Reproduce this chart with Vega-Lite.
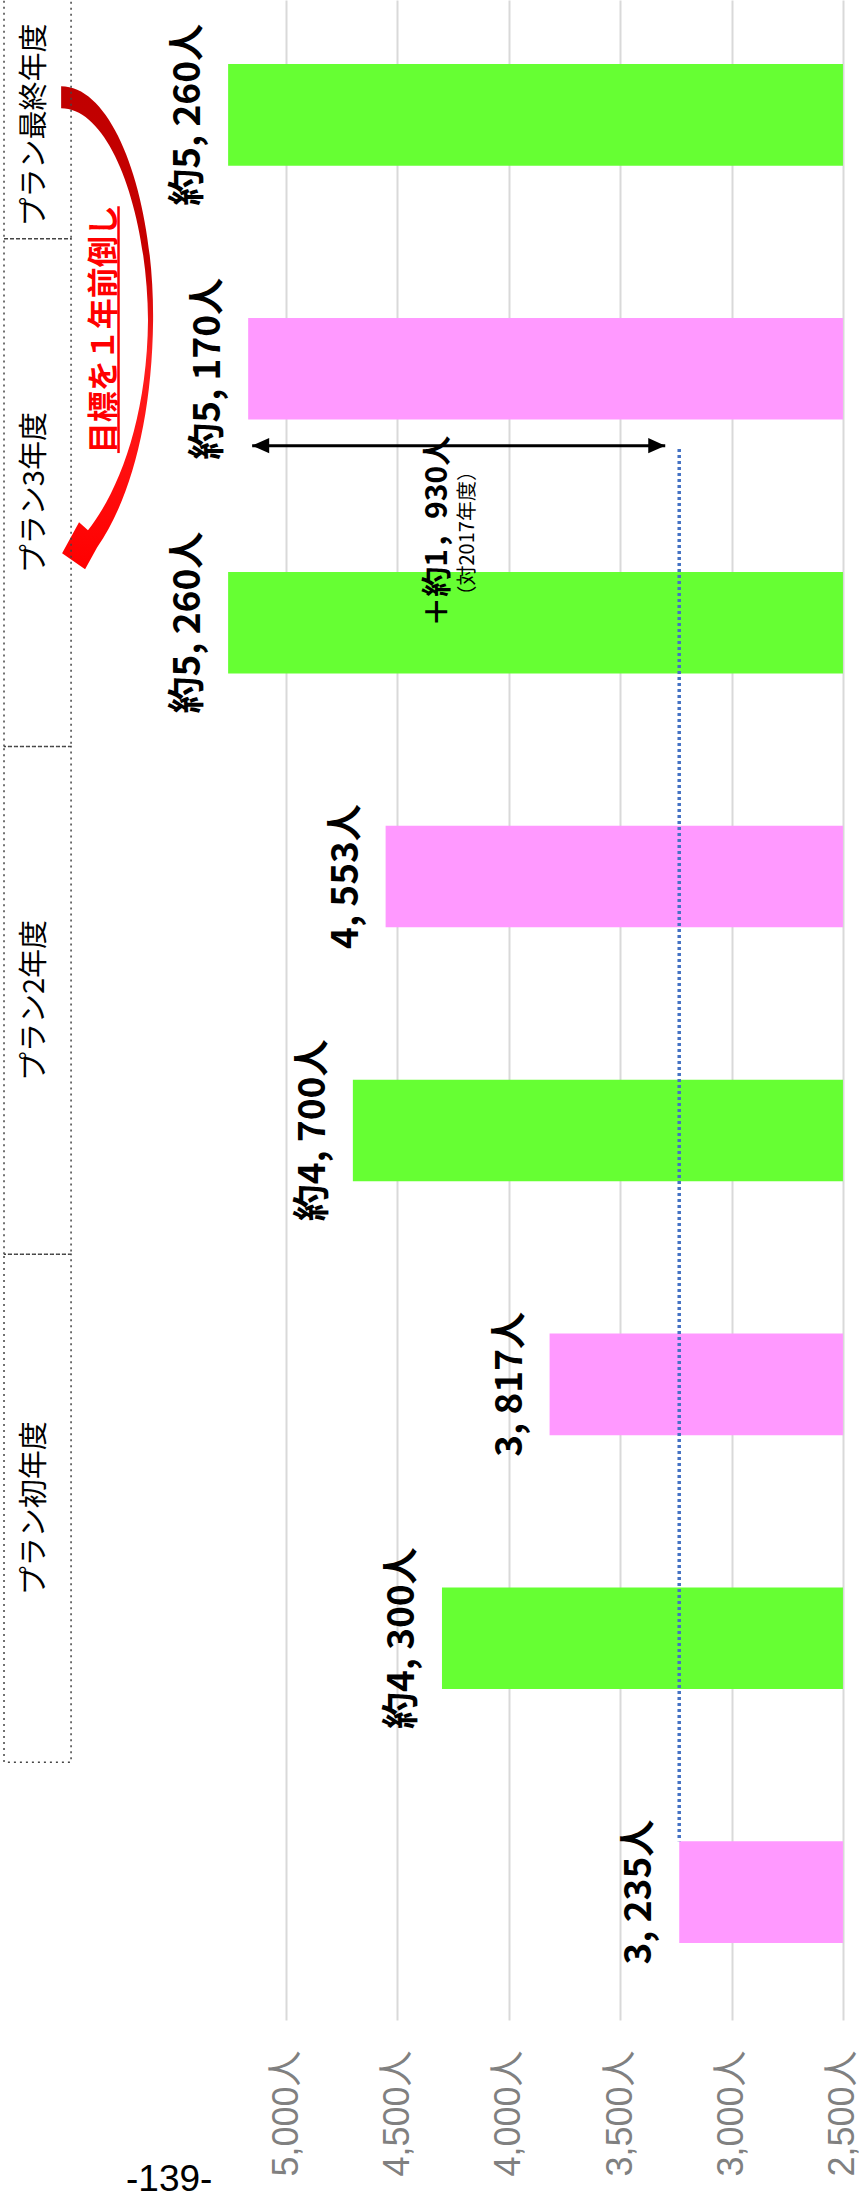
{
  "$schema": "https://vega.github.io/schema/vega-lite/v6.json",
  "width": 859,
  "height": 2020,
  "autosize": {"type": "none"},
  "padding": {"left": 0, "top": 0, "right": 0, "bottom": 181},
  "background": "white",
  "title": {"text": "-139-", "orient": "bottom", "anchor": "start", "frame": "group", "dx": 126, "offset": -14, "font": "Liberation Sans", "fontSize": 37, "fontWeight": "normal", "color": "#000000"},
  "config": {"view": {"stroke": null}, "font": "Noto Sans CJK JP"},
  "datasets": {
    "bars": [
      {"k": "最終年度目標", "type": "目標", "value": 5260, "label": "約5, 260人"},
      {"k": "3年度実績", "type": "実績", "value": 5170, "label": "約5, 170人"},
      {"k": "3年度目標", "type": "目標", "value": 5260, "label": "約5, 260人"},
      {"k": "2年度実績", "type": "実績", "value": 4553, "label": "4, 553人"},
      {"k": "2年度目標", "type": "目標", "value": 4700, "label": "約4, 700人"},
      {"k": "初年度実績", "type": "実績", "value": 3817, "label": "3, 817人"},
      {"k": "初年度目標", "type": "目標", "value": 4300, "label": "約4, 300人"},
      {"k": "2017年度実績", "type": "実績", "value": 3235, "label": "3, 235人"}
    ],
    "groups": [
      {"name": "プラン最終年度", "k": "最終年度目標", "k2": "最終年度目標"},
      {"name": "プラン3年度", "k": "3年度実績", "k2": "3年度目標"},
      {"name": "プラン2年度", "k": "2年度実績", "k2": "2年度目標"},
      {"name": "プラン初年度", "k": "初年度実績", "k2": "初年度目標"}
    ],
    "diff": [
      {"k": "3年度実績", "k6": "3年度目標", "kEnd": "2017年度実績", "from": 5170, "to": 3235, "text1": "＋約1，930人", "text2": "（対2017年度）"}
    ],
    "red": [
      {"k": "3年度実績", "kTop": "最終年度目標", "text": "目標を１年前倒し"}
    ]
  },
  "layer": [
    {
      "data": {"name": "bars"},
      "mark": {"type": "bar"},
      "encoding": {
        "y": {"field": "k", "type": "nominal", "axis": null,
              "scale": {"domain": ["最終年度目標", "3年度実績", "3年度目標", "2年度実績", "2年度目標", "初年度実績", "初年度目標", "2017年度実績"],
                        "paddingInner": 0.6, "paddingOuter": 0.278, "align": 0.454}},
        "x": {"field": "value", "type": "quantitative",
              "scale": {"domain": [2428, 6284], "reverse": true, "nice": false, "zero": false},
              "axis": {"values": [2500, 3000, 3500, 4000, 4500, 5000], "labelExpr": "format(datum.value, ',') + '人'",
                       "labelAngle": 270, "labelAlign": "right", "labelBaseline": "middle", "labelFontSize": 36,
                       "labelFont": "Liberation Sans, Noto Sans CJK JP", "labelColor": "#808080", "labelPadding": 30,
                       "ticks": false, "domain": false, "grid": true, "gridColor": "#d9d9d9", "gridWidth": 2,
                       "title": null, "labelFlush": false, "labelOverlap": false, "labelBound": false}},
        "x2": {"datum": 2500},
        "color": {"field": "type", "type": "nominal", "scale": {"domain": ["目標", "実績"], "range": ["#66ff33", "#ff99ff"]}, "legend": null}
      }
    },
    {
      "data": {"name": "diff"},
      "mark": {"type": "rule", "color": "#4472c4", "strokeWidth": 3.5, "strokeDash": [3, 3]},
      "encoding": {
        "x": {"field": "to", "type": "quantitative"},
        "y": {"field": "k", "type": "nominal", "bandPosition": 1.29},
        "y2": {"field": "kEnd", "bandPosition": 0}
      }
    },
    {
      "data": {"name": "bars"},
      "mark": {"type": "text", "angle": 270, "align": "center", "baseline": "bottom", "dy": -20,
               "font": "Noto Sans CJK JP", "fontSize": 37, "fontWeight": "bold", "color": "#000000"},
      "encoding": {
        "x": {"field": "value", "type": "quantitative"},
        "y": {"field": "k", "type": "nominal"},
        "text": {"field": "label"}
      }
    },
    {
      "data": {"name": "diff"},
      "mark": {"type": "rule", "color": "#000000", "strokeWidth": 3, "xOffset": 4, "x2Offset": -14},
      "encoding": {
        "x": {"field": "from", "type": "quantitative"},
        "x2": {"field": "to"},
        "y": {"field": "k", "type": "nominal", "bandPosition": 1.257}
      }
    },
    {
      "data": {"name": "diff"},
      "mark": {"type": "point", "shape": "M 1 -0.9 L -1 0 L 1 0.9 Z", "size": 289, "filled": true, "color": "#000000", "opacity": 1, "strokeWidth": 0, "xOffset": 12.5},
      "encoding": {
        "x": {"field": "from", "type": "quantitative"},
        "y": {"field": "k", "type": "nominal", "bandPosition": 1.257}
      }
    },
    {
      "data": {"name": "diff"},
      "mark": {"type": "point", "shape": "M -1 -0.9 L 1 0 L -1 0.9 Z", "size": 289, "filled": true, "color": "#000000", "opacity": 1, "strokeWidth": 0, "xOffset": -22.5},
      "encoding": {
        "x": {"field": "to", "type": "quantitative"},
        "y": {"field": "k", "type": "nominal", "bandPosition": 1.257}
      }
    },
    {
      "data": {"name": "diff"},
      "mark": {"type": "text", "angle": 270, "align": "center", "baseline": "middle", "fontSize": 30, "fontWeight": "bold", "color": "#000000"},
      "encoding": {
        "x": {"datum": 4320, "type": "quantitative"},
        "y": {"field": "k6", "type": "nominal", "bandPosition": -0.4},
        "text": {"field": "text1"}
      }
    },
    {
      "data": {"name": "diff"},
      "mark": {"type": "text", "angle": 270, "align": "center", "baseline": "middle", "fontSize": 20, "fontWeight": "normal", "color": "#000000"},
      "encoding": {
        "x": {"datum": 4185, "type": "quantitative"},
        "y": {"field": "k6", "type": "nominal", "bandPosition": -0.38},
        "text": {"field": "text2"}
      }
    },
    {
      "data": {"name": "red"},
      "mark": {"type": "point", "shape": "M -0.192 -1 C 0.031 -1 0.192 -0.529 0.188 -0.033 C 0.184 0.38 0.093 0.711 -0.043 0.905 L -0.093 0.996 L -0.188 0.93 L -0.118 0.802 L -0.081 0.835 C 0.043 0.678 0.163 0.38 0.167 -0.033 C 0.163 -0.488 0.01 -0.909 -0.192 -0.909 Z",
               "size": 234256, "filled": true, "opacity": 1, "strokeWidth": 0,
               "color": {"gradient": "linear", "x1": 0, "y1": 0, "x2": 0, "y2": 1, "stops": [{"offset": 0, "color": "#c00000"}, {"offset": 0.38, "color": "#c80000"}, {"offset": 0.55, "color": "#ff2020"}, {"offset": 1, "color": "#ff0000"}]}},
      "encoding": {
        "x": {"datum": 5801, "type": "quantitative"},
        "y": {"field": "k", "type": "nominal", "bandPosition": 0.1}
      }
    },
    {
      "data": {"name": "red"},
      "mark": {"type": "text", "angle": 270, "align": "center", "baseline": "middle", "fontSize": 31, "fontWeight": "bold", "color": "#ff0000"},
      "encoding": {
        "x": {"datum": 5812, "type": "quantitative"},
        "y": {"field": "k", "type": "nominal", "bandPosition": 0.11},
        "text": {"field": "text"}
      }
    },
    {
      "data": {"name": "red"},
      "mark": {"type": "rule", "color": "#ff0000", "strokeWidth": 2.5},
      "encoding": {
        "x": {"datum": 5752, "type": "quantitative"},
        "y": {"field": "kTop", "type": "nominal", "bandPosition": 1.4},
        "y2": {"field": "k", "bandPosition": 1.33}
      }
    },
    {
      "data": {"name": "groups"},
      "mark": {"type": "rect", "filled": false, "stroke": "#444444", "strokeWidth": 1.5, "strokeDash": [2, 4]},
      "encoding": {
        "x": {"datum": 6266, "type": "quantitative"},
        "x2": {"datum": 5965},
        "y": {"field": "k", "type": "nominal", "bandPosition": -0.78},
        "y2": {"field": "k2", "bandPosition": 1.72}
      }
    },
    {
      "data": {"name": "groups"},
      "transform": [{"filter": "datum.k != datum.k2"}],
      "mark": {"type": "text", "angle": 270, "align": "center", "baseline": "middle", "fontSize": 29, "color": "#000000"},
      "encoding": {
        "x": {"datum": 6127, "type": "quantitative"},
        "y": {"field": "k", "type": "nominal", "bandPosition": 1.72},
        "text": {"field": "name"}
      }
    },
    {
      "data": {"name": "groups"},
      "transform": [{"filter": "datum.k == datum.k2"}],
      "mark": {"type": "text", "angle": 270, "align": "center", "baseline": "middle", "fontSize": 29, "color": "#000000"},
      "encoding": {
        "x": {"datum": 6127, "type": "quantitative"},
        "y": {"field": "k", "type": "nominal", "bandPosition": 0.6},
        "text": {"field": "name"}
      }
    }
  ]
}
